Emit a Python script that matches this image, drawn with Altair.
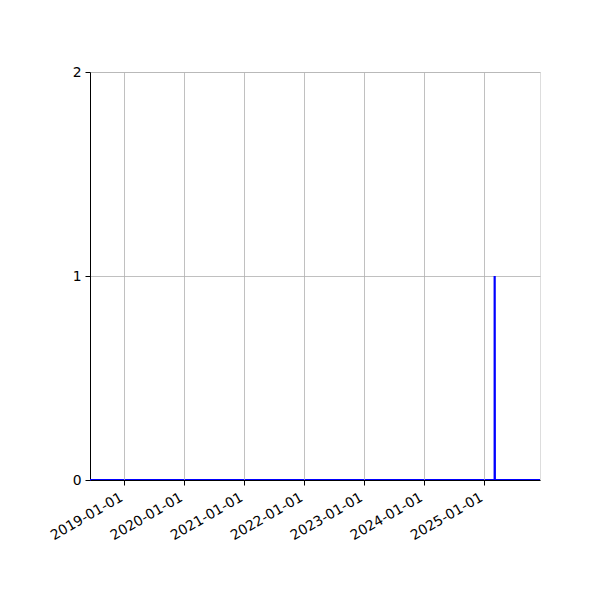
import altair as alt
import pandas as pd

dates = ["2018-06-09", "2025-03-08", "2025-03-08", "2025-03-09", "2025-12-09"]
values = [0, 0, 1, 0, 0]
order = [0, 1, 2, 3, 4]
year_ticks = ["2019-01-01", "2020-01-01", "2021-01-01", "2022-01-01",
              "2023-01-01", "2024-01-01", "2025-01-01"]

df = pd.DataFrame({"date": pd.to_datetime(dates), "value": values, "order": order})

tick_vals = [alt.DateTime(year=int(t[:4]), month=1, date=1) for t in year_ticks]

chart = alt.Chart(df).mark_line(color="#0000ff", strokeWidth=2.2).encode(
    x=alt.X("date:T",
            scale=alt.Scale(domain=[alt.DateTime(year=2018, month=6, date=9),
                                    alt.DateTime(year=2025, month=12, date=9)],
                            nice=False),
            axis=alt.Axis(values=tick_vals, format="%Y-%m-%d", labelAngle=-30,
                          labelAlign="right", labelBaseline="top", title=None,
                          grid=True, gridColor="#b0b0b0", gridWidth=0.8,
                          tickColor="black", tickSize=5, labelPadding=5,
                          labelOffset=-6, zindex=1, domainWidth=1.2,
                          domainColor="black", labelFontSize=13.9,
                          labelFont="DejaVu Sans", labelColor="black",
                          labelOverlap=False, labelFlush=False)),
    y=alt.Y("value:Q",
            scale=alt.Scale(domain=[0, 2], nice=False, zero=True),
            axis=alt.Axis(tickCount=2, format="d", title=None, grid=True,
                          gridColor="#b0b0b0", gridWidth=0.8, tickColor="black",
                          tickSize=5, labelPadding=4, domainColor="black",
                          labelFontSize=13.9, labelFont="DejaVu Sans",
                          labelColor="black", labelOverlap=False)),
    order="order:Q",
).properties(
    width=450, height=408,
    autosize=alt.AutoSizeParams(type="none"),
    padding={"left": 82, "top": 64, "right": 52, "bottom": 112},
).configure_view(stroke="black", strokeWidth=1.2).configure(background="white")

chart.save("out.html", embed_options={"renderer": "svg", "actions": False})
